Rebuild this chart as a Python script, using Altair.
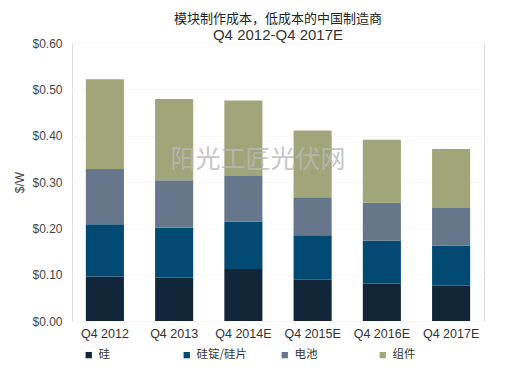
import altair as alt
import pandas as pd

quarters = ["Q4 2012", "Q4 2013", "Q4 2014E", "Q4 2015E", "Q4 2016E", "Q4 2017E"]
components = ["硅", "硅锭/硅片", "电池", "组件"]
silicon = [0.096, 0.094, 0.112, 0.089, 0.081, 0.076]
wafer = [0.113, 0.107, 0.102, 0.096, 0.092, 0.087]
cell = [0.119, 0.103, 0.099, 0.082, 0.082, 0.081]
module = [0.194, 0.175, 0.163, 0.144, 0.136, 0.127]
colors = ["#12263a", "#034a72", "#67778b", "#a0a67a"]
watermark = ["阳光工匠光伏网"]

series = [silicon, wafer, cell, module]
rows = []
for ci, (comp, vals) in enumerate(zip(components, series)):
    for q, v in zip(quarters, vals):
        rows.append({"quarter": q, "component": comp, "value": v, "idx": ci})
df = pd.DataFrame(rows)

FONT = "Liberation Sans"
CJK = "Noto Sans CJK SC"

bars = alt.Chart(df).mark_bar().encode(
    x=alt.X("quarter:N", sort=quarters, title=None,
            scale=alt.Scale(paddingInner=0.45, paddingOuter=0.2),
            axis=alt.Axis(labelAngle=0, ticks=False, domain=False, labelPadding=6,
                          labelFont=FONT, labelFontSize=12.5, labelColor="#333333")),
    y=alt.Y("value:Q", stack="zero", title="$/W",
            scale=alt.Scale(domain=[0, 0.6]),
            axis=alt.Axis(values=[0, 0.1, 0.2, 0.3, 0.4, 0.5, 0.6], format="$.2f",
                          ticks=False, domain=False, labelPadding=10,
                          labelFont=FONT, labelFontSize=12, labelColor="#444444",
                          titleFont=FONT, titleFontSize=12, titleFontWeight="normal",
                          titleColor="#444444", titlePadding=5,
                          grid=True, gridColor="#f8f8f8", gridWidth=1)),
    color=alt.Color("component:N", sort=components,
                    scale=alt.Scale(domain=components, range=colors),
                    legend=alt.Legend(title=None, orient="none", direction="horizontal",
                                      columns=4, gridAlign="all", columnPadding=31,
                                      legendX=11, legendY=306,
                                      symbolType="square", symbolSize=40, symbolStrokeWidth=0,
                                      labelFont=CJK, labelFontSize=11.5, labelColor="#333333",
                                      labelOffset=4)),
    order=alt.Order("idx:Q", sort="ascending"),
)

wm = alt.Chart(pd.DataFrame({"t": watermark})).mark_text(
    font=CJK, fontSize=25, color="#b8b8b8", opacity=0.8, align="center", baseline="middle"
).encode(text="t:N", x=alt.value(186), y=alt.value(117))

chart = alt.layer(bars, wm).properties(
    width=412, height=278,
    title=alt.TitleParams(
        text="模块制作成本，低成本的中国制造商",
        subtitle="Q4 2012-Q4 2017E",
        font=CJK, fontSize=13, fontWeight="normal", color="#222222",
        subtitleFont=FONT, subtitleFontSize=15, subtitleColor="#333333",
        subtitlePadding=2, anchor="middle", offset=-6,
    ),
).configure_view(fill="#efefef", stroke=None).configure(background="#ffffff")

chart.save("out.html", embed_options={"renderer": "svg", "actions": False})
